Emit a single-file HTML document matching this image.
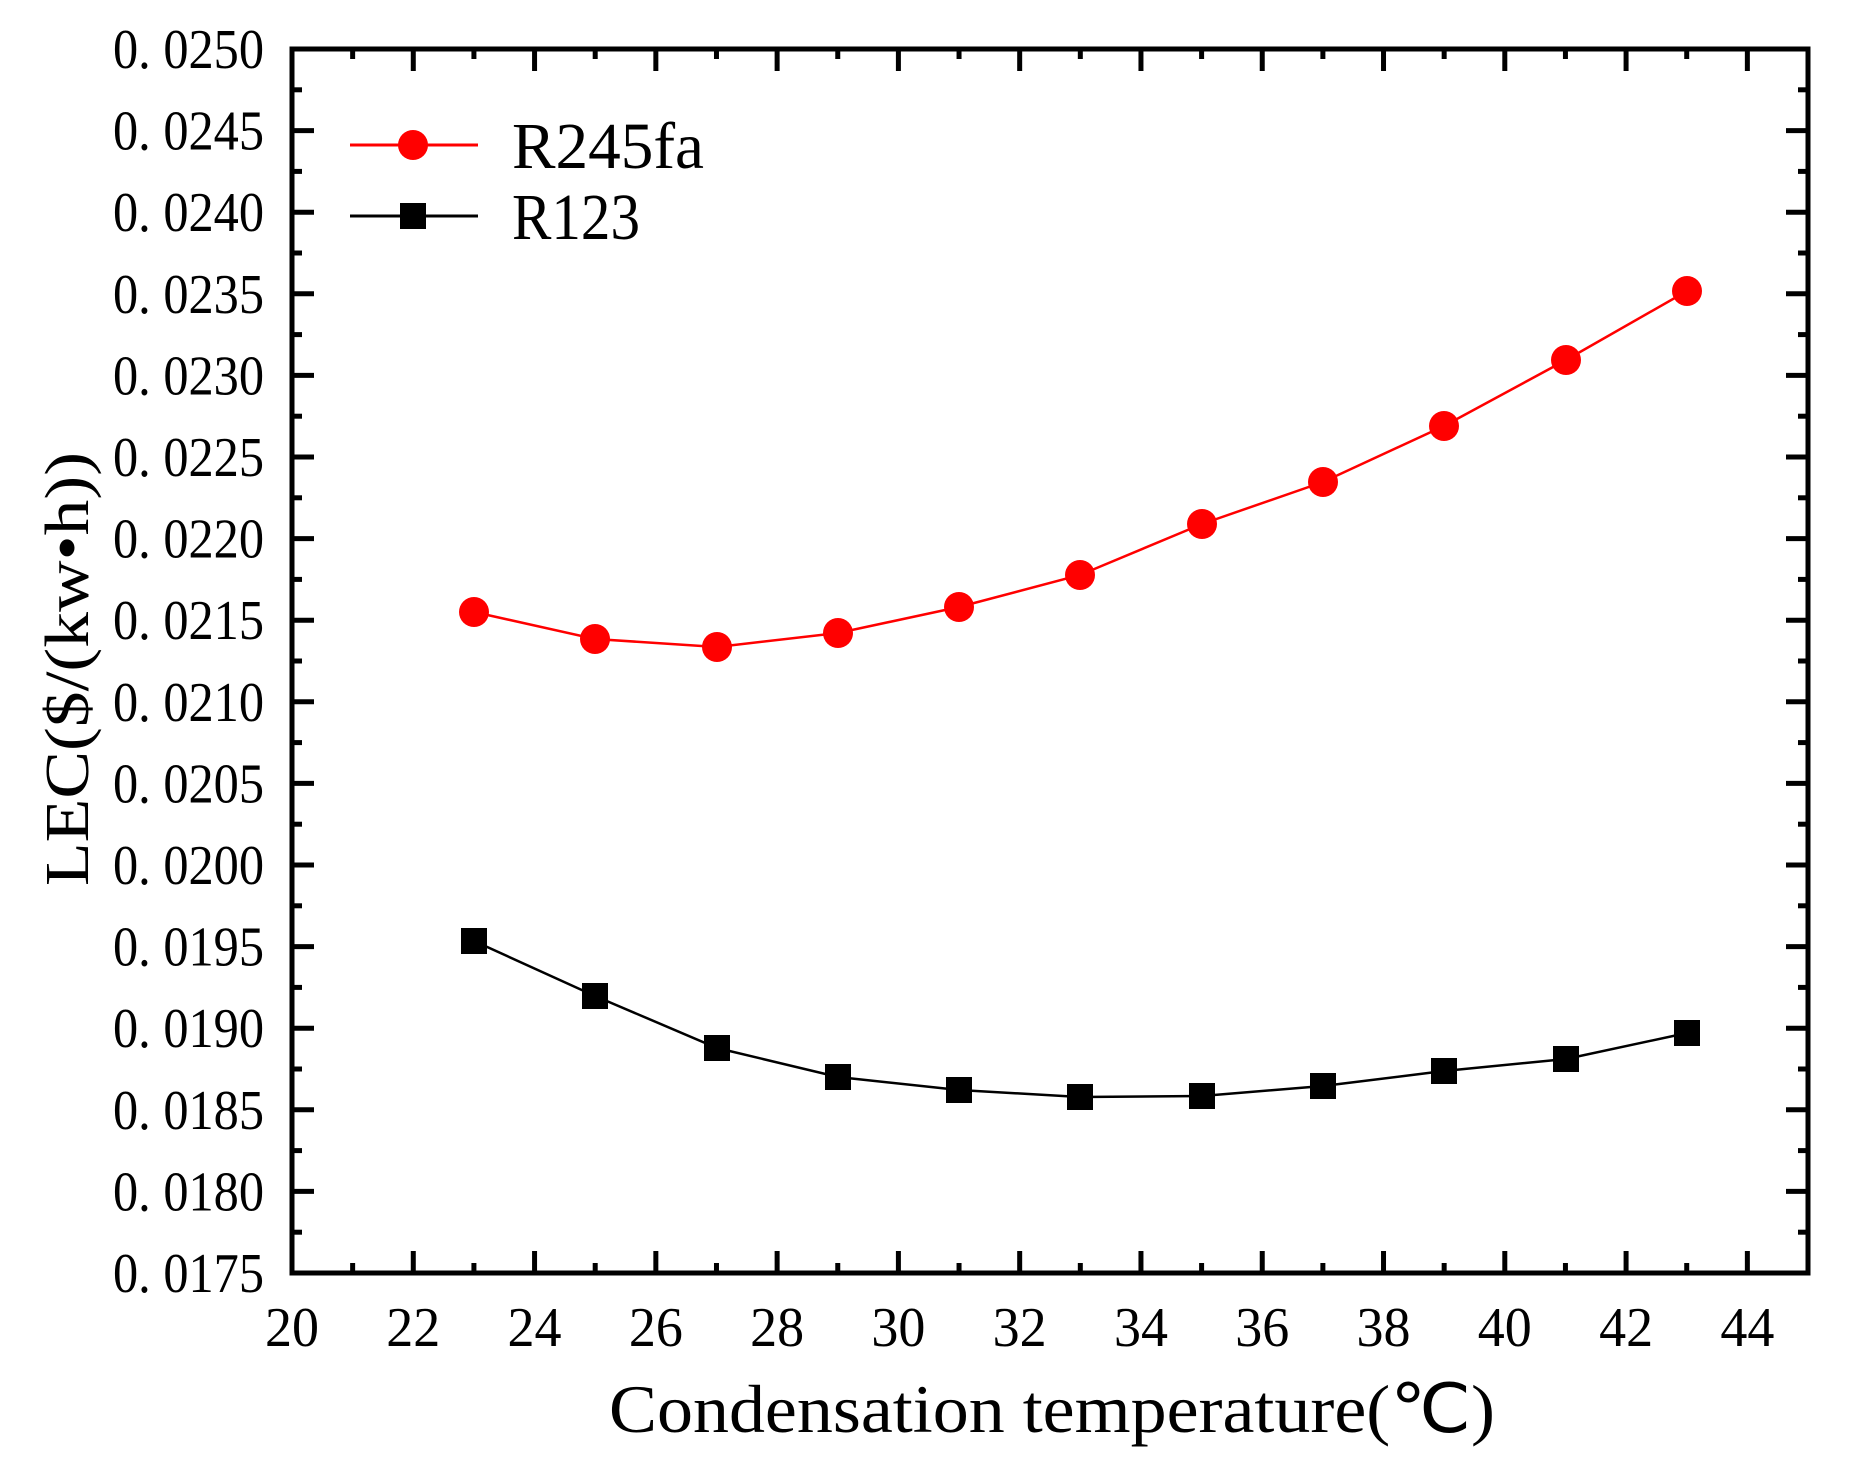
<!DOCTYPE html>
<html><head><meta charset="utf-8"><style>body{margin:0;background:#fff}</style></head>
<body>
<svg width="1855" height="1466" xmlns="http://www.w3.org/2000/svg" font-family="'Liberation Serif', serif">
<rect width="1855" height="1466" fill="#fff"/>
<g id="ticks" stroke="#000" stroke-width="5"></g>
<g font-size="56" fill="#000" id="labels"></g>
<polyline fill="none" stroke="#f00" stroke-width="2.5" points="474,612 595,639 717,647 838,633 959,607 1080,575 1202,524 1323,482 1444,426 1566,360 1687,291"/>
<polyline fill="none" stroke="#000" stroke-width="2.5" points="474,941 595,996 717,1048 838,1077 959,1090 1080,1097 1202,1096 1323,1086 1444,1071 1566,1059 1687,1033"/>
<g fill="#f00">
<circle cx="474" cy="612" r="15"/><circle cx="595" cy="639" r="15"/><circle cx="717" cy="647" r="15"/><circle cx="838" cy="633" r="15"/><circle cx="959" cy="607" r="15"/><circle cx="1080" cy="575" r="15"/><circle cx="1202" cy="524" r="15"/><circle cx="1323" cy="482" r="15"/><circle cx="1444" cy="426" r="15"/><circle cx="1566" cy="360" r="15"/><circle cx="1687" cy="291" r="15"/>
<circle cx="413" cy="145" r="15"/>
</g>
<g fill="#000">
<rect x="461" y="928" width="26" height="26"/><rect x="582" y="983" width="26" height="26"/><rect x="704" y="1035" width="26" height="26"/><rect x="825" y="1064" width="26" height="26"/><rect x="946" y="1077" width="26" height="26"/><rect x="1067" y="1084" width="26" height="26"/><rect x="1189" y="1083" width="26" height="26"/><rect x="1310" y="1073" width="26" height="26"/><rect x="1431" y="1058" width="26" height="26"/><rect x="1553" y="1046" width="26" height="26"/><rect x="1674" y="1020" width="26" height="26"/>
<rect x="400" y="203" width="26" height="26"/>
</g>
<line x1="350" y1="145" x2="478" y2="145" stroke="#f00" stroke-width="3"/>
<line x1="350" y1="216" x2="478" y2="216" stroke="#000" stroke-width="3"/>
<text x="512" y="168" font-size="66" textLength="192" lengthAdjust="spacingAndGlyphs">R245fa</text>
<text x="512" y="239" font-size="66" textLength="128" lengthAdjust="spacingAndGlyphs">R123</text>
<rect x="292" y="49" width="1516" height="1224" fill="none" stroke="#000" stroke-width="5"/>
<text x="1052" y="1432" font-size="68" text-anchor="middle" textLength="886" lengthAdjust="spacingAndGlyphs">Condensation temperature(℃)</text>
<text transform="translate(88,669) rotate(-90)" font-size="62" text-anchor="middle" textLength="434" lengthAdjust="spacingAndGlyphs">LEC($/(kw•h))</text>
<script>
var t=document.getElementById('ticks'),l=document.getElementById('labels'),ns='http://www.w3.org/2000/svg';
function ln(a,b,c,d){var e=document.createElementNS(ns,'line');e.setAttribute('x1',a);e.setAttribute('y1',b);e.setAttribute('x2',c);e.setAttribute('y2',d);t.appendChild(e);}
function tx(x,y,s,a,w){var e=document.createElementNS(ns,'text');e.setAttribute('x',x);e.setAttribute('y',y);e.setAttribute('text-anchor',a);e.setAttribute('textLength',w);e.setAttribute('lengthAdjust','spacingAndGlyphs');e.textContent=s;l.appendChild(e);}
for(var i=0;i<=25;i++){var x=292+i*60.64,L=(i%2==0)?22:10;ln(x,1273,x,1273-L);ln(x,49,x,49+L);if(i%2==0)tx(x,1346,String(20+i),'middle',54);}
for(var j=0;j<=30;j++){var y=1273-j*40.8,L=(j%2==0)?22:10;ln(292,y,292+L,y);ln(1808,y,1808-L,y);if(j%2==0){tx(264,y+19,(0.0175+j*0.00025).toFixed(4).replace('.','. '),'end',151);}}
</script>
</svg>
</body></html>
